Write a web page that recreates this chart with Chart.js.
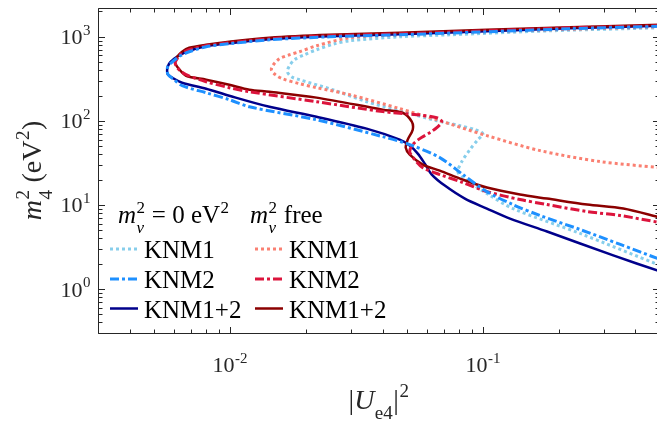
<!DOCTYPE html>
<html>
<head>
<meta charset="utf-8">
<script src="https://cdn.jsdelivr.net/npm/chart.js@4.4.1/dist/chart.umd.min.js"></script>
<style>
html, body { margin: 0; padding: 0; background: #fff; overflow: hidden; }
canvas { display: block; }
</style>
</head>
<body>
<canvas id="chart" width="662" height="424"></canvas>
<script>
// axis ranges and tick labels
const xRange = [0.003, 0.5];
const yRange = [0.3, 2200];
const xTickValues = [0.01, 0.1];
const xTickExps = ['-2', '-1'];
const yTickValues = [1, 10, 100, 1000];
const yTickExps = ['0', '1', '2', '3'];
const seriesLabels = ['KNM1', 'KNM2', 'KNM1+2'];

// m_nu^2 = 0 eV^2 contours (|Ue4|^2, m4^2)
const fixedKnm1X = [0.5, 0.1838, 0.07379, 0.04676, 0.02963, 0.02584, 0.02193, 0.01965, 0.01794, 0.01714,
    0.01682, 0.01745, 0.01877, 0.02537, 0.03459, 0.04676, 0.06553, 0.08085, 0.09271, 0.09972,
    0.09528, 0.08858, 0.08234, 0.07938, 0.0831, 0.1034, 0.1311, 0.2417, 0.5];
const fixedKnm1Y = [1279, 1178, 1056, 1000, 897, 826, 701, 611, 533, 452,
    384, 335, 309, 235, 169, 132, 100.5, 87.7, 78.6, 70.5,
    59.8, 45.5, 32.8, 24.9, 21.2, 13.7, 9.06, 4.58, 1.91];

const fixedKnm2X = [0.5, 0.2206, 0.1034, 0.04676, 0.02469, 0.01428, 0.00991, 0.00803, 0.00688, 0.00634,
    0.00611, 0.00584, 0.00568, 0.00563, 0.00568, 0.006, 0.00645, 0.00803, 0.00991, 0.0119,
    0.02193, 0.04004, 0.05123, 0.06736, 0.0831, 0.1034, 0.1311, 0.1678, 0.2417, 0.3483, 0.5];
const fixedKnm2Y = [1332, 1245, 1147, 1056, 1000, 921, 826, 761, 664, 595,
    548, 491, 452, 406, 354, 309, 262, 216, 179, 147,
    103, 64.9, 52.2, 36.6, 23.0, 14.4, 10.1, 7.48, 5.10, 3.39, 2.25];

const fixedKnm12X = [0.5, 0.2206, 0.1034, 0.04676, 0.02469, 0.01428, 0.00991, 0.00803, 0.00688, 0.00634,
    0.006, 0.00573, 0.00563, 0.00568, 0.006, 0.00645, 0.00803, 0.00991, 0.01428, 0.02193,
    0.03459, 0.04676, 0.05123, 0.05512, 0.05875, 0.06262, 0.0705, 0.08464, 0.1034, 0.1276,
    0.1788, 0.3267, 0.5];
const fixedKnm12Y = [1351, 1262, 1162, 1071, 1014, 934, 837, 771, 682, 611,
    548, 478, 406, 354, 317, 284, 241, 199, 147, 112,
    80.8, 59.8, 50.8, 40.8, 31.0, 23.0, 17.0, 11.9, 9.06, 6.89,
    4.83, 2.51, 1.62];

// m_nu^2 free contours
const freeKnm1X = [0.5, 0.1838, 0.07379, 0.04676, 0.02963, 0.02193, 0.01877, 0.01714, 0.01564, 0.01481,
    0.01454, 0.01508, 0.01607, 0.01877, 0.02193, 0.02963, 0.04676, 0.06553, 0.1034, 0.1678,
    0.29, 0.5];
const freeKnm1Y = [1315, 1211, 1116, 1056, 973, 782, 664, 611, 548, 465,
    406, 354, 317, 277, 248, 205, 140, 103, 66.7, 44.3,
    32.8, 27.8];

const freeKnm2X = [0.5, 0.2206, 0.1034, 0.04676, 0.02469, 0.01428, 0.00991, 0.00803, 0.00688, 0.00639,
    0.00617, 0.00605, 0.00622, 0.00669, 0.00803, 0.00991, 0.0119, 0.02193, 0.04004, 0.05461,
    0.06553, 0.0686, 0.06553, 0.06148, 0.05613, 0.05265, 0.05123, 0.05362, 0.05768, 0.06736,
    0.0831, 0.1034, 0.1398, 0.1788, 0.2576, 0.3483, 0.5];
const freeKnm2Y = [1351, 1279, 1178, 1085, 1028, 947, 849, 782, 701, 628,
    548, 491, 417, 354, 292, 248, 222, 169, 129, 118.5,
    109, 97.8, 83.1, 72.4, 61.5, 52.2, 43.1, 34.6, 27.8, 23.0,
    18.5, 14.4, 11.6, 10.1, 8.35, 7.48, 6.18];

const freeKnm12X = [0.5, 0.2206, 0.1034, 0.04676, 0.02469, 0.01428, 0.00991, 0.00803, 0.00688, 0.00645,
    0.00617, 0.00605, 0.00617, 0.00669, 0.00803, 0.00991, 0.0119, 0.01428, 0.02193, 0.04004,
    0.04806, 0.0522, 0.05265, 0.0503, 0.04939, 0.05123, 0.05768, 0.06736, 0.0831, 0.1034,
    0.1398, 0.1788, 0.2576, 0.358, 0.5];
const freeKnm12Y = [1388, 1297, 1211, 1116, 1056, 973, 872, 804, 740, 664,
    579, 505, 440, 344, 309, 269, 235, 222, 189, 136,
    125, 97.8, 78.6, 59.8, 48.0, 39.7, 30.2, 25.6, 20.0, 16.1,
    13.3, 11.9, 10.1, 9.06, 7.09];

const AXIS = '#262626';
const SERIF = '"Liberation Serif", "Times New Roman", serif';
const DOTTED = [3, 3];
const DASHDOT = [9, 3, 3, 3];

const zip = (xs, ys) => xs.map((x, i) => ({ x: x, y: ys[i] }));

function line(label, xs, ys, color, dash, width, order) {
    return {
        label: label,
        data: zip(xs, ys),
        borderColor: color,
        borderDash: dash,
        borderWidth: width,
        borderCapStyle: 'butt',
        showLine: true,
        fill: false,
        pointRadius: 0,
        tension: 0.3,
        order: order
    };
}

const datasets = [
    line('KNM1', fixedKnm1X, fixedKnm1Y, '#87CEEB', DOTTED, 3, 5),
    line('KNM2', fixedKnm2X, fixedKnm2Y, '#1E90FF', DASHDOT, 3, 0),
    line('KNM1+2', fixedKnm12X, fixedKnm12Y, '#00008B', [], 2.5, 3),
    line('KNM1', freeKnm1X, freeKnm1Y, '#FA8072', DOTTED, 3, 4),
    line('KNM2', freeKnm2X, freeKnm2Y, '#DC143C', DASHDOT, 3, 1),
    line('KNM1+2', freeKnm12X, freeKnm12Y, '#8B0000', [], 2.5, 2)
];

function font(size, italic) {
    return (italic ? 'italic ' : '') + size + 'px ' + SERIF;
}

// rich text: {t, it} runs and {sup, sub} script stacks
function partWidth(ctx, p, size) {
    if (p.t !== undefined) {
        ctx.font = font(size, p.it);
        return ctx.measureText(p.t).width;
    }
    const s = size * 0.68;
    let w = 0;
    if (p.sup) { ctx.font = font(s, p.supIt); w = Math.max(w, ctx.measureText(p.sup).width); }
    if (p.sub) { ctx.font = font(s, p.subIt); w = Math.max(w, ctx.measureText(p.sub).width); }
    return w + 1;
}

function drawRich(ctx, parts, x, y, size, align) {
    const w = parts.reduce((sum, p) => sum + partWidth(ctx, p, size), 0);
    let cx = x;
    if (align === 'center') cx = x - w / 2;
    else if (align === 'right') cx = x - w;
    ctx.textAlign = 'left';
    ctx.textBaseline = 'alphabetic';
    parts.forEach((p) => {
        const pw = partWidth(ctx, p, size);
        if (p.t !== undefined) {
            ctx.font = font(size, p.it);
            ctx.fillText(p.t, cx, y);
        } else {
            const s = size * 0.68;
            if (p.sup) { ctx.font = font(s, p.supIt); ctx.fillText(p.sup, cx + 0.5, y - size * 0.42); }
            if (p.sub) { ctx.font = font(s, p.subIt); ctx.fillText(p.sub, cx + 0.5, y + size * 0.38); }
        }
        cx += pw;
    });
}

function logTicks(min, max) {
    const out = [];
    for (let d = Math.floor(Math.log10(min)); d <= Math.ceil(Math.log10(max)); d++) {
        for (let k = 1; k <= 9; k++) {
            const v = k * Math.pow(10, d);
            if (v >= min * 0.999 && v <= max * 1.001) out.push({ v: v, major: k === 1 });
        }
    }
    return out;
}

const frame = {
    id: 'frame',
    afterDraw(chart) {
        const { ctx, chartArea: a } = chart;
        const sx = chart.scales.x, sy = chart.scales.y;
        const L = a.left + 0.5, R = a.right - 0.5, T = a.top + 0.5, B = a.bottom + 0.5;
        ctx.save();
        ctx.strokeStyle = AXIS;
        ctx.lineWidth = 1;
        ctx.setLineDash([]);
        ctx.beginPath();
        ctx.moveTo(L, T); ctx.lineTo(R, T); ctx.lineTo(R, B); ctx.lineTo(L, B); ctx.closePath();
        logTicks(xRange[0], xRange[1]).forEach((t) => {
            const px = Math.round(sx.getPixelForValue(t.v)) + 0.5;
            const len = t.major ? 6.5 : 4;
            ctx.moveTo(px, B); ctx.lineTo(px, B - len);
            ctx.moveTo(px, T); ctx.lineTo(px, T + len);
        });
        logTicks(yRange[0], yRange[1]).forEach((t) => {
            const py = Math.round(sy.getPixelForValue(t.v)) + 0.5;
            const len = t.major ? 6.5 : 4;
            ctx.moveTo(L, py); ctx.lineTo(L + len, py);
            ctx.moveTo(R, py); ctx.lineTo(R - len, py);
        });
        ctx.stroke();

        // tick labels
        ctx.fillStyle = AXIS;
        xTickValues.forEach((v, i) => {
            drawRich(ctx, [{ t: '10' }, { sup: xTickExps[i] }], sx.getPixelForValue(v), a.bottom + 39, 22, 'center');
        });
        yTickValues.forEach((v, i) => {
            drawRich(ctx, [{ t: '10' }, { sup: yTickExps[i] }], a.left - 7, sy.getPixelForValue(v) + 7.5, 22, 'right');
        });

        // axis titles
        drawRich(ctx, [{ t: '|' }, { t: 'U', it: true }, { sub: 'e4' }, { t: '|' }, { sup: '2' }],
            (a.left + a.right) / 2, 408.5, 28, 'center');
        ctx.save();
        ctx.translate(41, (a.top + a.bottom) / 2);
        ctx.rotate(-Math.PI / 2);
        drawRich(ctx, [{ t: 'm', it: true }, { sup: '2', sub: '4' }, { t: ' (eV' }, { sup: '2' }, { t: ')' }],
            0, 0, 28, 'center');
        ctx.restore();

        // legend: two columns with headers
        ctx.fillStyle = '#000';
        drawRich(ctx, [{ t: 'm', it: true }, { sup: '2', sub: 'ν', subIt: true }, { t: ' = 0 eV' }, { sup: '2' }],
            118, 223, 25, 'left');
        drawRich(ctx, [{ t: 'm', it: true }, { sup: '2', sub: 'ν', subIt: true }, { t: ' free' }],
            250, 223, 25, 'left');
        const colX = [110, 255];
        const rowY = [258, 288, 317.5];
        datasets.forEach((ds, i) => {
            const col = Math.floor(i / 3), row = i % 3;
            const x0 = colX[col], yb = rowY[row];
            ctx.strokeStyle = ds.borderColor;
            ctx.lineWidth = ds.borderWidth;
            ctx.setLineDash(ds.borderDash);
            ctx.lineCap = 'butt';
            ctx.beginPath();
            ctx.moveTo(x0, yb - 9);
            ctx.lineTo(x0 + 28, yb - 9);
            ctx.stroke();
            ctx.fillStyle = '#000';
            ctx.font = font(25, false);
            ctx.textAlign = 'left';
            ctx.textBaseline = 'alphabetic';
            ctx.fillText(seriesLabels[row], x0 + 34, yb);
        });
        ctx.restore();
    }
};

new Chart(document.getElementById('chart'), {
    type: 'scatter',
    data: { datasets: datasets },
    options: {
        responsive: false,
        animation: false,
        layout: { padding: { left: 98, top: 8, right: 2, bottom: 91 } },
        plugins: { legend: { display: false }, tooltip: { enabled: false } },
        scales: {
            x: { type: 'logarithmic', min: xRange[0], max: xRange[1], display: false },
            y: { type: 'logarithmic', min: yRange[0], max: yRange[1], display: false }
        }
    },
    plugins: [frame]
});
</script>
</body>
</html>
